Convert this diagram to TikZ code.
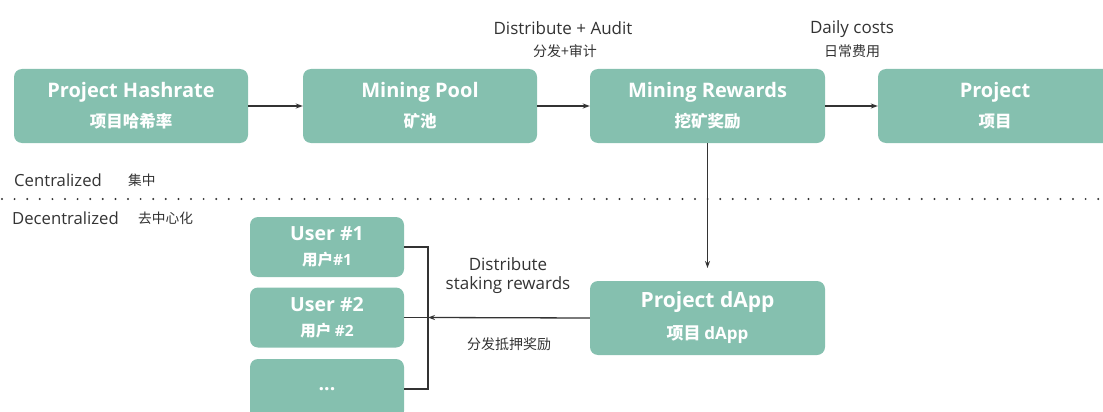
\documentclass[tikz,border=0pt]{standalone}
\usepackage{fontspec}
\setmainfont{Open Sans}
\newfontfamily\cjk{Noto Sans CJK SC}
\usetikzlibrary{arrows.meta}
\definecolor{boxgreen}{HTML}{85C0AF}
\definecolor{linegray}{HTML}{333333}

\begin{document}
\begin{tikzpicture}[x=1pt,y=-1pt]
    \tikzstyle{box} = [draw=none,fill=boxgreen,rounded corners=8pt,text=white,align=center,inner sep=0pt]
    \tikzstyle{topbox} = [box,minimum width=234pt,minimum height=74pt,font=\fontsize{20}{30}\selectfont]
    \tikzstyle{userbox} = [box,minimum width=154pt,minimum height=60pt,font=\fontsize{19.5}{25}\selectfont]
    \tikzstyle{lbl} = [text=linegray,align=center,inner sep=0pt]
    \tikzstyle{arr} = [draw=linegray,line width=1.3pt,-{Stealth[length=7pt,width=5pt]}]

    \useasboundingbox (0,0) rectangle (1103,412);

    % centralized row
    \node[topbox] (hash) at (131,106) {\textbf{Project Hashrate}\\{\cjk\bfseries\fontsize{16.5}{30}\selectfont 项目哈希率}};
    \node[topbox] (pool) at (420,106) {\textbf{Mining Pool}\\{\cjk\bfseries\fontsize{16.5}{30}\selectfont 矿池}};
    \node[topbox,minimum width=235pt] (rewards) at (707.5,106) {\textbf{Mining Rewards}\\{\cjk\bfseries\fontsize{16.5}{30}\selectfont 挖矿奖励}};
    \node[topbox] (proj) at (995,106) {\textbf{Project}\\{\cjk\bfseries\fontsize{16.5}{30}\selectfont 项目}};

    \draw[arr] (hash) -- (pool);
    \draw[arr] (pool) -- (rewards);
    \draw[arr] (rewards) -- (proj);

    \node[lbl,font=\fontsize{17}{17}\selectfont] (audit) at (563,28) {Distribute + Audit};
    \node[lbl,font=\cjk\fontsize{14}{14}\selectfont] (auditcn) at (565,51) {分发+审计};
    \node[lbl,font=\fontsize{17}{17}\selectfont] (costs) at (852,29.5) {Daily costs};
    \node[lbl,font=\cjk\fontsize{14}{14}\selectfont] (costscn) at (852,51) {日常费用};

    % divider
    \node[lbl,anchor=west,font=\fontsize{16.7}{16.7}\selectfont] (cen) at (14,180) {Centralized};
    \node[lbl,anchor=west,font=\cjk\fontsize{13.7}{13.7}\selectfont] (cencn) at (128,180) {集中};
    \draw[linegray,line width=2.2pt,line cap=round,dash pattern=on 0pt off 12.6pt] (2,199) -- (1103,199);
    \node[lbl,anchor=west,font=\fontsize{16.7}{16.7}\selectfont] (dec) at (12,218) {Decentralized};
    \node[lbl,anchor=west,font=\cjk\fontsize{13.7}{13.7}\selectfont] (deccn) at (138,218) {去中心化};

    % decentralized row
    \node[box,minimum width=235pt,minimum height=74pt,font=\fontsize{21}{32}\selectfont] (dapp) at (707.5,318) {\textbf{Project dApp}\\{\cjk\bfseries\fontsize{17}{32}\selectfont 项目 \textbf{\rmfamily dApp}}};
    \node[userbox] (user1) at (327,247) {\textbf{User \#1}\\{\cjk\bfseries\fontsize{15.5}{25}\selectfont 用户\textbf{\rmfamily\#1}}};
    \node[userbox] (user2) at (327,317.5) {\textbf{User \#2}\\{\cjk\bfseries\fontsize{15.5}{25}\selectfont 用户 \textbf{\rmfamily\#2}}};
    \node[userbox] (user3) at (327,389) {\raisebox{-1.5pt}[0pt][0pt]{\textbf{...}}};

    \draw[arr] (rewards) -- (dapp.north |- 0,268);
    \coordinate (join) at (428,317.5);
    \draw[linegray,line width=1.2pt] (user1.east) -| (join) |- (user3.east);
    \draw[linegray,line width=1.2pt] (user2.east) -- (join);
    \draw[arr] (dapp.west) -- (join);

    \node[lbl,font=\fontsize{17}{19}\selectfont] (stake) at (508,276) {Distribute\\staking rewards};
    \node[lbl,font=\cjk\fontsize{14}{14}\selectfont] (stakecn) at (509,344) {分发抵押奖励};
\end{tikzpicture}
\end{document}
